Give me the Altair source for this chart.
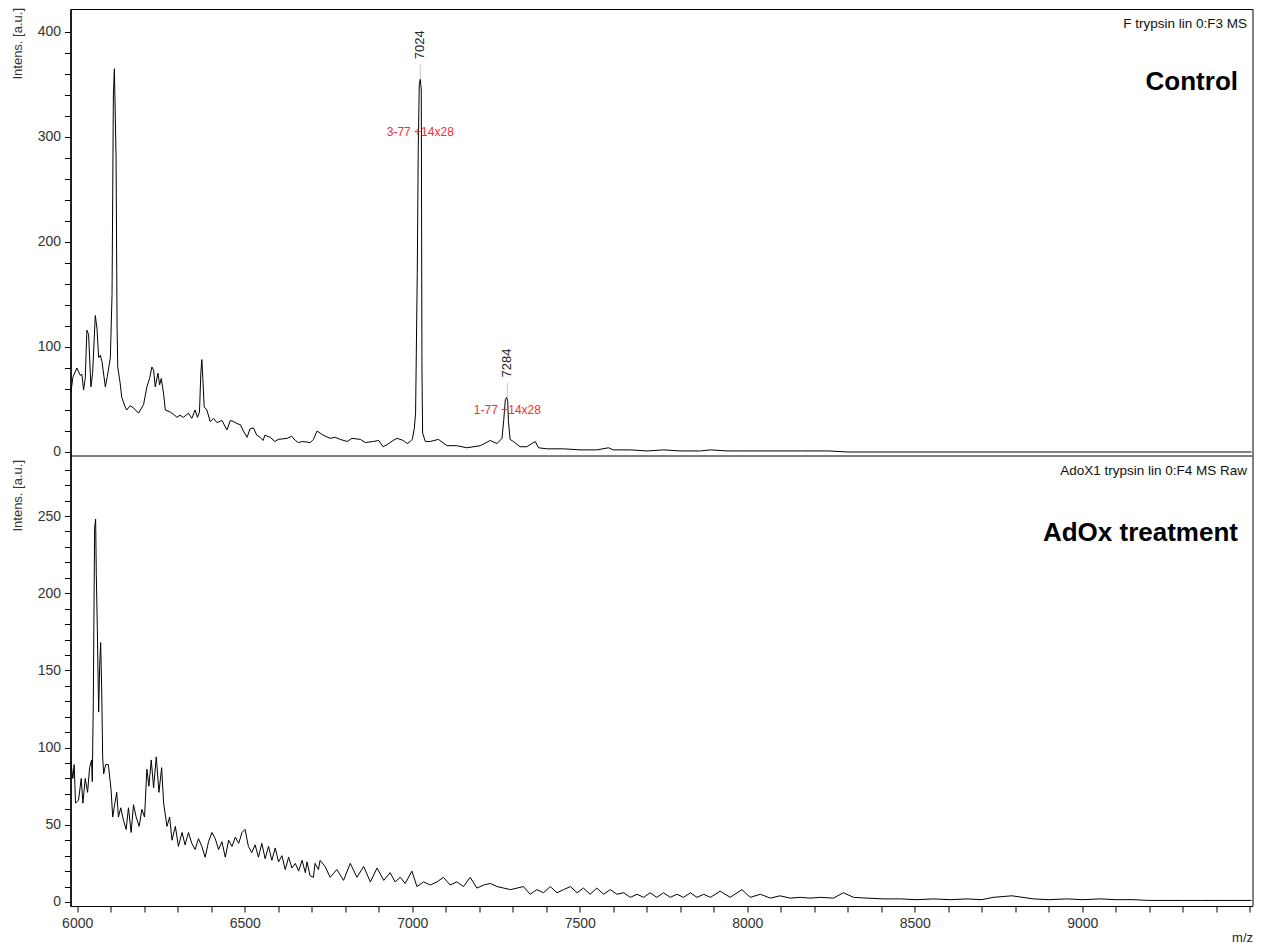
import altair as alt
import pandas as pd

# ---------------- data ----------------
top_mz = [5981, 5987, 5999, 6009, 6014, 6019, 6024, 6029, 6034, 6041, 6046, 6054, 6059, 6064,
          6069, 6074, 6084, 6090, 6099, 6104, 6108, 6111, 6116, 6119, 6121, 6128, 6133, 6143,
          6148, 6158, 6168, 6183, 6198, 6208, 6216, 6223, 6228, 6233, 6241, 6246, 6251, 6258,
          6263, 6278, 6287, 6298, 6307, 6317, 6332, 6342, 6352, 6359, 6365, 6369, 6372, 6375,
          6379, 6387, 6397, 6407, 6417, 6432, 6442, 6447, 6457, 6467, 6477, 6487, 6496, 6507,
          6516, 6526, 6536, 6546, 6555, 6560, 6576, 6590, 6600, 6627, 6640, 6651, 6660, 6672,
          6696, 6705, 6716, 6725, 6734, 6755, 6770, 6785, 6806, 6820, 6845, 6860, 6884, 6900,
          6913, 6925, 6943, 6955, 6973, 6985, 6994, 7000, 7006, 7010, 7015, 7018, 7021, 7024,
          7027, 7029, 7031, 7039, 7054, 7078, 7104, 7133, 7163, 7203, 7233, 7253, 7268, 7273,
          7278, 7282, 7285, 7287, 7292, 7302, 7322, 7342, 7367, 7377, 7402, 7452, 7501, 7551,
          7586, 7600, 7651, 7701, 7750, 7800, 7860, 7890, 7940, 7988, 8044, 8158, 8242, 8300,
          9505]
top_int = [56, 71, 80, 73, 74, 59, 70, 116, 112, 62, 75, 130, 118, 90,
           92, 86, 62, 72, 90, 150, 340, 365, 280, 120, 81, 66, 52, 43,
           40, 44, 42, 37, 45, 62, 70, 81, 78, 62, 75, 64, 70, 55,
           40, 38, 36, 33, 35, 33, 37, 32, 40, 33, 38, 75, 88, 70,
           43, 40, 29, 32, 28, 30, 24, 21, 30, 29, 27, 26, 20, 14,
           22, 23, 16, 14, 11, 16, 14, 10, 12, 13, 15, 11, 9, 10,
           9, 12, 20, 18, 16, 13, 14, 12, 10, 13, 12, 9, 10, 11,
           5, 7, 11, 13, 11, 8, 10, 12, 22, 37, 170, 290, 350, 355,
           345, 81, 18, 10, 10, 12, 6, 6, 4, 6, 11, 8, 13, 30,
           50, 52, 48, 30, 12, 10, 5, 5, 10, 4, 3, 3, 2, 2,
           4, 2, 2, 1, 2, 1, 1, 2, 1, 1, 1, 1, 1, 0,
           0]

bot_mz = [5981, 5987, 5991, 5995, 6004, 6012, 6017, 6024, 6031, 6037, 6043, 6045, 6048, 6052,
          6055, 6057, 6060, 6064, 6067, 6070, 6073, 6076, 6079, 6085, 6093, 6101, 6106, 6111,
          6118, 6123, 6130, 6138, 6146, 6153, 6161, 6168, 6176, 6185, 6193, 6201, 6208, 6214,
          6221, 6228, 6236, 6244, 6252, 6258, 6268, 6276, 6283, 6293, 6302, 6313, 6322, 6332,
          6342, 6352, 6362, 6372, 6382, 6392, 6402, 6412, 6422, 6432, 6442, 6452, 6462, 6472,
          6482, 6492, 6501, 6511, 6521, 6531, 6541, 6551, 6561, 6571, 6581, 6591, 6601, 6611,
          6621, 6631, 6641, 6651, 6661, 6671, 6681, 6686, 6695, 6705, 6710, 6720, 6725, 6740,
          6755, 6775, 6795, 6815, 6835, 6855, 6875, 6895, 6915, 6934, 6949, 6964, 6979, 6999,
          7014, 7034, 7054, 7074, 7093, 7113, 7133, 7153, 7173, 7193, 7213, 7233, 7253, 7273,
          7293, 7313, 7332, 7352, 7372, 7392, 7412, 7432, 7452, 7472, 7492, 7511, 7531, 7551,
          7571, 7591, 7611, 7631, 7651, 7671, 7691, 7710, 7730, 7750, 7770, 7790, 7810, 7830,
          7850, 7870, 7890, 7919, 7949, 7984, 8009, 8039, 8069, 8098, 8128, 8158, 8188, 8218,
          8257, 8287, 8317, 8357, 8407, 8457, 8507, 8556, 8606, 8656, 8700, 8734, 8790, 8854,
          8900, 8954, 9000, 9054, 9100, 9152, 9200, 9253, 9300, 9352, 9402, 9450, 9505]
bot_int = [91, 80, 89, 64, 66, 80, 64, 80, 71, 87, 92, 78, 129, 242,
           248, 212, 178, 123, 152, 168, 139, 94, 83, 89, 89, 73, 55, 62,
           71, 55, 61, 53, 47, 61, 45, 63, 55, 49, 60, 55, 86, 75,
           92, 74, 94, 71, 87, 64, 49, 55, 40, 49, 36, 45, 37, 45,
           38, 34, 41, 36, 29, 39, 45, 41, 34, 39, 29, 40, 36, 42,
           38, 45, 47, 36, 32, 37, 29, 38, 28, 36, 27, 35, 26, 30,
           21, 29, 22, 25, 20, 27, 19, 26, 17, 16, 25, 21, 27, 23,
           16, 21, 14, 25, 16, 23, 13, 22, 14, 19, 13, 16, 12, 20,
           10, 13, 11, 13, 16, 11, 13, 10, 16, 9, 11, 12, 10, 9,
           8, 9, 10, 5, 8, 6, 10, 6, 8, 10, 6, 9, 5, 9,
           5, 8, 5, 6, 3, 5, 3, 6, 3, 6, 3, 5, 3, 6,
           3, 5, 3, 7, 3, 8, 3, 5, 2.5, 4, 2.5, 3, 2.5, 3,
           2.5, 6, 3, 2.5, 2, 2, 1.5, 2, 1.5, 2, 1.5, 3, 4, 2,
           1.5, 2, 1.5, 2, 1.5, 1.5, 1, 1, 1, 1, 1, 1, 1]

peak_mz = [7024, 7284]
peak_top = [355, 52]
peak_labels = ["7024", "7284"]
assign_labels = ["3-77 +14x28", "1-77 +14x28"]

top_header = "F trypsin lin 0:F3 MS"
top_name = "Control"
bot_header = "AdoX1 trypsin lin 0:F4 MS Raw"
bot_name = "AdOx treatment"
y_title = "Intens. [a.u.]"

# ---------------- layout ----------------
FONT = "Liberation Sans"
W, H = 1182, 897
x_scale = alt.Scale(domain=[5980, 9508], nice=False, zero=False)
top_scale = alt.Scale(domain=[-432.4, 421.9], nice=False, zero=False)
bot_scale = alt.Scale(domain=[-2.6, 578.4], nice=False, zero=False)

top_df = pd.DataFrame({"mz": top_mz, "intensity": top_int})
bot_df = pd.DataFrame({"mz": bot_mz, "intensity": bot_int})
ann = pd.DataFrame({"mz": peak_mz, "top": peak_top, "mass": peak_labels, "assign": assign_labels})
ann["lead_hi"] = ann["top"] + 14
ann["label_y"] = ann["top"] + 19
ann["assign_y"] = [305, 40]

x_axis = alt.Axis(values=list(range(6000, 9501, 100)), format="d",
                  labelExpr="(datum.value % 500 === 0 && datum.value <= 9000) ? datum.label : ''",
                  title="m/z", titleAnchor="end", titleFont=FONT, titleFontSize=13,
                  titleFontWeight="normal", titleColor="#222", titlePadding=1,
                  tickSize=6, tickColor="black", domainColor="black", labelPadding=4,
                  labelFont=FONT, labelFontSize=14, labelColor="#333", grid=False,
                  labelOverlap=False, labelFlush=False)


def y_axis(vals, step):
    return alt.Axis(values=vals, format="d", orient="left",
                    labelExpr=f"datum.value % {step} === 0 ? datum.label : ''",
                    title=None, tickSize=6, tickColor="black", domainColor="black",
                    labelPadding=4, labelFont=FONT, labelFontSize=14, labelColor="#333",
                    grid=False, labelOverlap=False, labelFlush=False)


top_y_axis = y_axis(list(range(0, 401, 20)), 100)
bot_y_axis = y_axis(list(range(0, 281, 10)), 50)
X = alt.X("mz:Q", scale=x_scale, axis=x_axis)

top_line = alt.Chart(top_df).mark_line(color="black", strokeWidth=1).encode(
    x=X,
    y=alt.Y("intensity:Q", scale=top_scale, axis=top_y_axis),
)
lead = alt.Chart(ann).mark_rule(color="#c8c8c8", strokeWidth=1).encode(
    x=X,
    y=alt.Y("top:Q", scale=top_scale, axis=top_y_axis),
    y2="lead_hi:Q",
)
mass = alt.Chart(ann).mark_text(angle=270, align="left", baseline="middle", font=FONT,
                                fontSize=13, color="#222").encode(
    x=X,
    y=alt.Y("label_y:Q", scale=top_scale, axis=top_y_axis),
    text="mass:N",
)
assign = alt.Chart(ann).mark_text(align="center", baseline="middle", font=FONT,
                                  fontSize=12, color="#ff2a2a").encode(
    x=X,
    y=alt.Y("assign_y:Q", scale=top_scale, axis=top_y_axis),
    text="assign:N",
)

one = pd.DataFrame({"a": [0]})
sep = alt.Chart(one).mark_rule(color="black", strokeWidth=1).encode(
    x=alt.value(0), x2=alt.value(W), y=alt.value(447))


def label(txt, x, y, size, weight="normal", align="right", angle=0, color="#111"):
    kw = dict(align=align, baseline="middle", font=FONT, fontSize=size,
              fontWeight=weight, color=color)
    if angle:
        kw["angle"] = angle
    return alt.Chart(pd.DataFrame({"t": [txt]})).mark_text(**kw).encode(
        x=alt.value(x), y=alt.value(y), text="t:N")


top_layer = alt.layer(
    top_line, lead, mass, assign, sep,
    label(top_header, 1176.5, 15, 13.5),
    label(top_name, 1167.5, 73, 26, weight="bold", color="black"),
    label(y_title, -52.5, -1, 13, align="right", angle=270, color="#333"),
)

bot_line = alt.Chart(bot_df).mark_line(color="black", strokeWidth=1).encode(
    x=X,
    y=alt.Y("intensity:Q", scale=bot_scale, axis=bot_y_axis),
)
bot_layer = alt.layer(
    bot_line,
    label(bot_header, 1176.5, 462, 13.5),
    label(bot_name, 1167.5, 524, 26, weight="bold", color="black"),
    label(y_title, -52.5, 451, 13, align="right", angle=270, color="#333"),
)

chart = alt.layer(top_layer, bot_layer).resolve_scale(y="independent").properties(
    width=W, height=H,
    padding={"left": 62.5, "top": 1, "right": 3, "bottom": 40},
    autosize=alt.AutoSizeParams(type="none"),
).configure_view(stroke="black", strokeWidth=1)

chart.save("out.html", embed_options={"renderer": "svg", "actions": False})
